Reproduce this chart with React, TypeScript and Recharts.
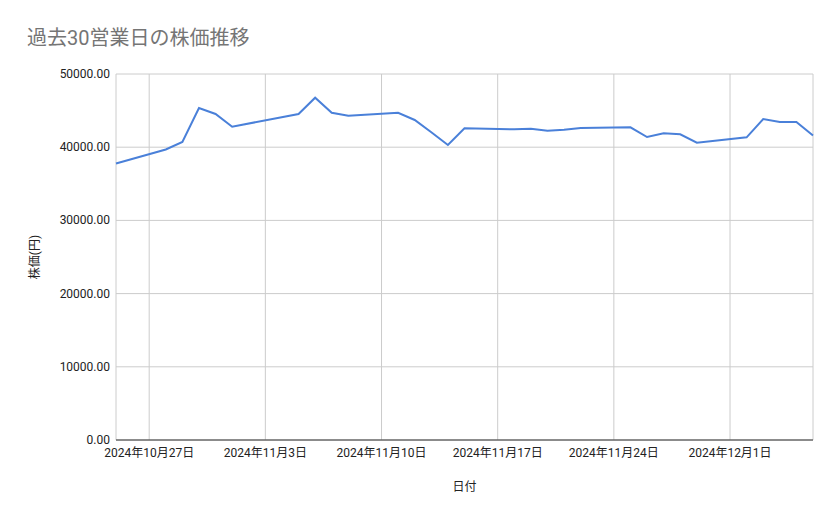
import React from "react";
import { LineChart, Line, XAxis, YAxis, CartesianGrid } from "recharts";

// 終値（円）— 過去30営業日
const dates = [
  "2024-10-25",
  "2024-10-28", "2024-10-29", "2024-10-30", "2024-10-31", "2024-11-01",
  "2024-11-05", "2024-11-06", "2024-11-07", "2024-11-08",
  "2024-11-11", "2024-11-12", "2024-11-13", "2024-11-14", "2024-11-15",
  "2024-11-18", "2024-11-19", "2024-11-20", "2024-11-21", "2024-11-22",
  "2024-11-25", "2024-11-26", "2024-11-27", "2024-11-28", "2024-11-29",
  "2024-12-02", "2024-12-03", "2024-12-04", "2024-12-05", "2024-12-06",
];
const prices = [
  37770,
  39690, 40710, 45360, 44540, 42800,
  44540, 46760, 44710, 44300,
  44710, 43720, 42050, 40300, 42580,
  42450, 42530, 42250, 42380, 42620,
  42720, 41390, 41900, 41760, 40610,
  41350, 43850, 43440, 43440, 41600,
];
const xTickDates = ["2024-10-27", "2024-11-03", "2024-11-10", "2024-11-17", "2024-11-24", "2024-12-01"];
const yTicks = [0, 10000, 20000, 30000, 40000, 50000];
const xStart = "2024-10-25";
const xEnd = "2024-12-06";

const FONT = 'Roboto, "Noto Sans CJK JP", sans-serif';
const DAY = 86400000;

const toDay = (s: string) => {
  const [y, m, d] = s.split("-").map(Number);
  return Date.UTC(y, m - 1, d) / DAY;
};
const fmtDate = (day: number) => {
  const dt = new Date(day * DAY);
  return `${dt.getUTCFullYear()}年${dt.getUTCMonth() + 1}月${dt.getUTCDate()}日`;
};

const data = dates.map((d, i) => ({ day: toDay(d), price: prices[i] }));

const XTick = ({ x, y, payload }: any) => (
  <text x={x} y={y} dy={17} textAnchor="middle" fontSize={12} fill="#222" fontFamily={FONT}>
    {fmtDate(payload.value)}
  </text>
);

const YTick = ({ x, y, payload }: any) => (
  <text x={x} y={y} dy={4} textAnchor="end" fontSize={12} fill="#222" fontFamily={FONT}>
    {payload.value.toFixed(2)}
  </text>
);

export default function App() {
  return (
    <div style={{ position: "absolute", left: 0, top: 0, width: 839, height: 519, background: "#fff", fontFamily: FONT }}>
      <div style={{ position: "absolute", left: 27, top: 27, fontSize: 20, lineHeight: "22px", color: "#757575" }}>
        過去30営業日の株価推移
      </div>
      <LineChart
        width={839}
        height={519}
        data={data}
        margin={{ top: 74, right: 26, bottom: 49, left: 0 }}
      >
        <CartesianGrid stroke="#cccccc" strokeWidth={1} />
        <XAxis
          dataKey="day"
          type="number"
          domain={[toDay(xStart), toDay(xEnd)]}
          ticks={xTickDates.map(toDay)}
          tick={<XTick />}
          tickLine={false}
          tickSize={0}
          tickMargin={0}
          height={30}
          axisLine={{ stroke: "#333", strokeWidth: 1 }}
          interval={0}
        />
        <YAxis
          type="number"
          domain={[0, 50000]}
          ticks={yTicks}
          tick={<YTick />}
          tickLine={false}
          tickSize={0}
          tickMargin={6}
          axisLine={false}
          width={116}
          interval={0}
        />
        <Line
          type="linear"
          dataKey="price"
          stroke="#4a80d9"
          strokeWidth={2}
          dot={false}
          isAnimationActive={false}
        />
      </LineChart>
      <div style={{ position: "absolute", left: 0, width: 929, top: 477, textAlign: "center", fontSize: 12, color: "#222" }}>
        日付
      </div>
      <div
        style={{
          position: "absolute",
          left: 33,
          top: 257,
          transform: "translate(-50%, -50%) rotate(-90deg)",
          fontSize: 12,
          color: "#222",
          whiteSpace: "nowrap",
        }}
      >
        株価(円)
      </div>
    </div>
  );
}
